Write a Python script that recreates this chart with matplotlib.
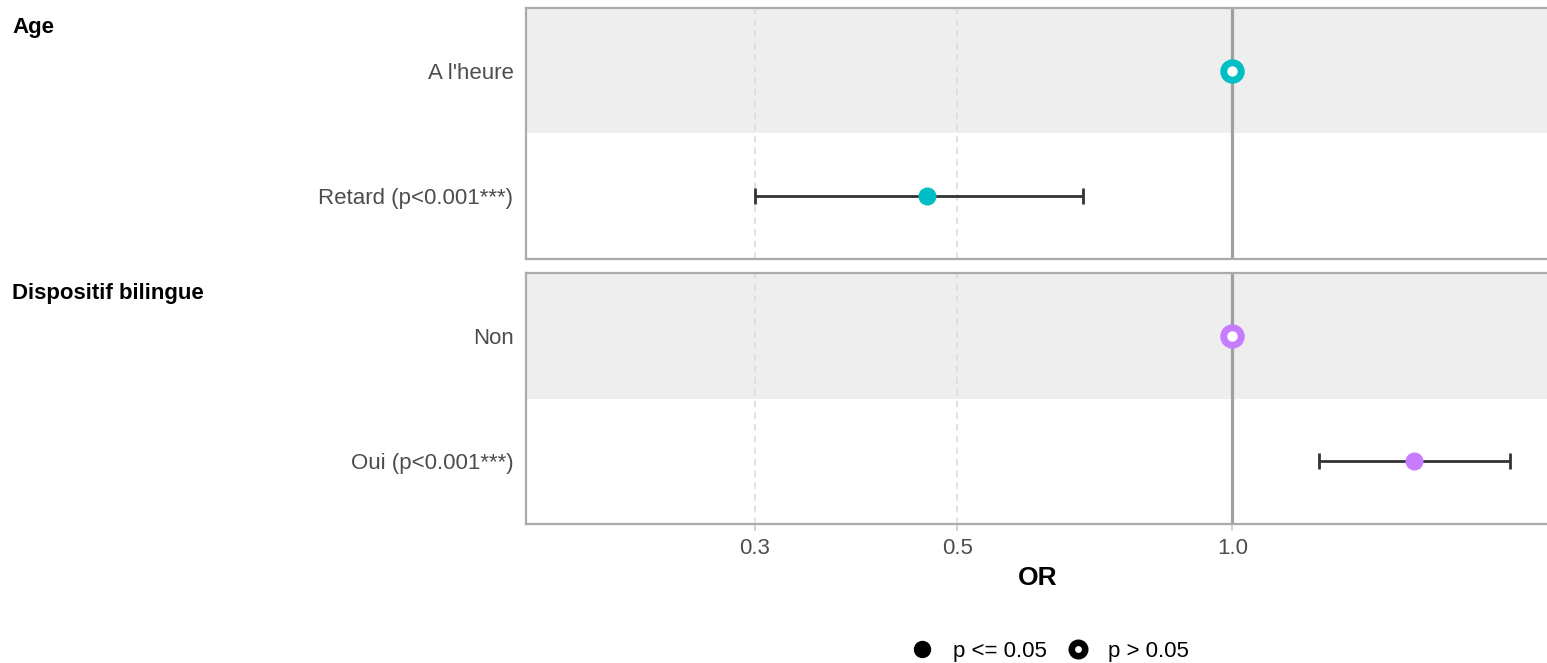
import matplotlib
matplotlib.use("Agg")
import matplotlib.pyplot as plt
from matplotlib.lines import Line2D
import numpy as np

plt.rcParams['font.family'] = ['Liberation Sans', 'DejaVu Sans']

# ---- data ----
groups = ["Age", "Dispositif bilingue"]
levels = [["A l'heure", "Retard (p<0.001***)"],
          ["Non", "Oui (p<0.001***)"]]
or_values = [[1.0, 0.463], [1.0, 1.58]]
ci_low = [[None, 0.30], [None, 1.243]]
ci_high = [[None, 0.687], [None, 2.01]]
significant = [[False, True], [False, True]]
group_colors = ["#00BFC4", "#C77CFF"]
xticks = [0.3, 0.5, 1.0]
xtick_labels = ["0.3", "0.5", "1.0"]

W, H = 1547, 663
fig = plt.figure(figsize=(W / 100, H / 100), dpi=100)

xmin, xmax = 0.1687, 2.22
panels_px = [(8, 259), (273, 524)]
group_label_y = [27, 294]
left_px, right_px = 526, 1549

for gi, (top, bot) in enumerate(panels_px):
    ax = fig.add_axes([left_px / W, 1 - bot / H, (right_px - left_px) / W, (bot - top) / H])
    ax.set_xscale('log')
    ax.set_xlim(xmin, xmax)
    ax.set_ylim(0, 2)
    ax.axhspan(1, 2, color='#EEEEEE', zorder=0, lw=0)
    for xt in xticks:
        ax.axvline(xt, color='#DDDDDD', lw=1.2, ls=(0, (4, 3)), zorder=1)
    ax.axvline(1.0, color='#A0A0A0', lw=2.3, zorder=2)
    ys = [1.5, 0.5]
    for li in range(2):
        y = ys[li]
        v = or_values[gi][li]
        c = group_colors[gi]
        if ci_low[gi][li] is not None:
            lo, hi = ci_low[gi][li], ci_high[gi][li]
            ax.errorbar([v], [y], xerr=[[v - lo], [hi - v]], fmt='none',
                        ecolor='#333333', elinewidth=2.0, capsize=6, capthick=2.0, zorder=3)
        if significant[gi][li]:
            ax.plot([v], [y], 'o', ms=13, color=c, mec=c, mew=0, zorder=4)
        else:
            ax.plot([v], [y], 'o', ms=12.6, mfc='white', mec=c, mew=5.0, zorder=4)
    ax.set_yticks(ys)
    ax.set_yticklabels(levels[gi], fontsize=16, color='#4D4D4D')
    ax.tick_params(axis='y', length=0, pad=9)
    ax.minorticks_off()
    ax.set_xticks(xticks)
    for s in ax.spines.values():
        s.set_color('#ABABAB')
        s.set_linewidth(1.6)
    if gi == 0:
        ax.tick_params(axis='x', length=0, labelbottom=False)
    else:
        ax.set_xticklabels(xtick_labels, fontsize=16, color='#4D4D4D')
        ax.tick_params(axis='x', length=5, width=1.2, color='#CCCCCC', pad=5)
        ax.set_xlabel("OR", fontsize=19, fontweight='bold', labelpad=5)
    fig.text(12 / W, 1 - group_label_y[gi] / H, groups[gi], fontsize=16, fontweight='bold',
             ha='left', va='center')

handles = [Line2D([], [], ls='none', marker='o', ms=11.5, color='black'),
           Line2D([], [], ls='none', marker='o', ms=9.7, mfc='white', mec='black', mew=4.7)]
fig.legend(handles, ["p <= 0.05", "p > 0.05"], loc='center', bbox_to_anchor=(1050 / W, 1 - 651 / H),
           ncol=2, frameon=False, fontsize=16, handletextpad=0.86, columnspacing=0.9, handlelength=1.0)

fig.savefig("out.png", dpi=100)
